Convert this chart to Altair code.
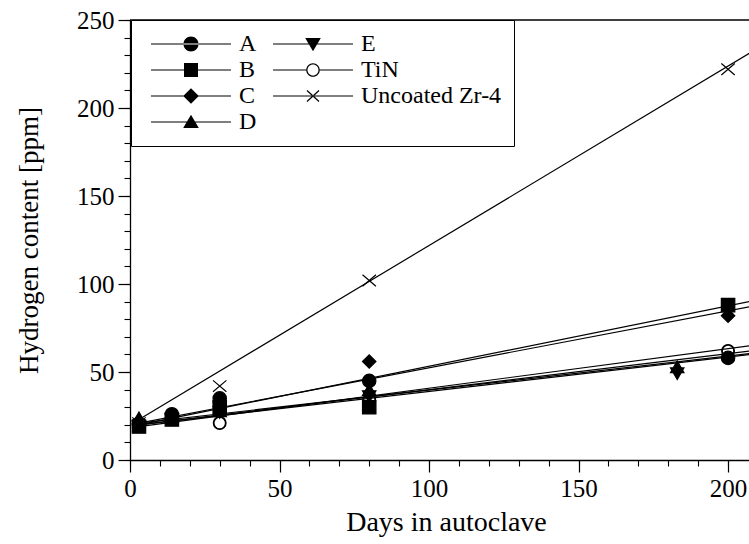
import altair as alt
import pandas as pd

FONT = "Liberation Serif, Times New Roman, Times, serif"

series_order = ["A", "B", "C", "D", "E", "TiN", "Uncoated Zr-4"]

# measured points
days_A = [3, 14, 30, 80, 200]
h_A = [20, 26, 35, 45, 58]
days_B = [3, 14, 30, 80, 200]
h_B = [19, 23, 30, 30, 88]
days_C = [3, 14, 30, 80, 200]
h_C = [22, 24, 33, 56, 82]
days_D = [3, 14, 30, 80, 183]
h_D = [24, 25, 28, 40, 53]
days_E = [3, 14, 30, 80, 183]
h_E = [19, 23, 27, 36, 49]
days_TiN = [3, 30, 80, 200]
h_TiN = [20, 21, 34, 62]
days_Zr = [3, 30, 80, 200]
h_Zr = [21, 42, 102, 222]

# fitted straight lines (start / end)
fit_series = ["A", "B", "C", "D", "E", "TiN", "Uncoated Zr-4"]
fit_day_start = 3
fit_day_end = 210
fit_h_start = [20, 20, 21, 21, 20, 19, 23]
fit_h_end = [62.5, 91, 88, 61, 60.5, 65.5, 234]

x_major = [0, 50, 100, 150, 200]
x_minor = list(range(0, 201, 10))
y_major = [0, 50, 100, 150, 200, 250]
y_minor = list(range(0, 251, 10))

rows = []
for name, d, h in [("A", days_A, h_A), ("B", days_B, h_B), ("C", days_C, h_C),
                   ("D", days_D, h_D), ("E", days_E, h_E), ("TiN", days_TiN, h_TiN),
                   ("Uncoated Zr-4", days_Zr, h_Zr)]:
    for a, b in zip(d, h):
        rows.append({"series": name, "day": a, "h": b})
pts = pd.DataFrame(rows)

frows = []
for name, a, b in zip(fit_series, fit_h_start, fit_h_end):
    frows.append({"series": name, "day": fit_day_start, "h": a})
    frows.append({"series": name, "day": fit_day_end, "h": b})
fits = pd.DataFrame(frows)

frame = pd.DataFrame({"x0": [0], "x1": [207], "y": [250]})

xs = alt.Scale(domain=[0, 207], nice=False, zero=False)
ys = alt.Scale(domain=[0, 250], nice=False, zero=False)

# marker shapes for the plotted points
ring = ("M-0.95,0A0.95,0.95 0 1 0 0.95,0A0.95,0.95 0 1 0 -0.95,0Z"
        "M-0.86,0A0.86,0.86 0 1 1 0.86,0A0.86,0.86 0 1 1 -0.86,0Z")
xmark = "M-1,-0.85L1,0.85M-1,0.85L1,-0.85"
data_shapes = {"A": "circle", "B": "square", "C": "diamond", "D": "triangle-up",
               "E": "triangle-down", "TiN": ring, "Uncoated Zr-4": xmark}

# legend symbols (fill only): a thin bar with the marker in its middle
ln = "M-0.4,-0.055H7.6V0.055H-0.4Z"
leg_shapes = [
    ln + "M2.85,0A0.75,0.75 0 1 0 4.35,0A0.75,0.75 0 1 0 2.85,0Z",
    ln + "M2.9,-0.7H4.3V0.7H2.9Z",
    ln + "M3.6,-0.78L4.38,0L3.6,0.78L2.82,0Z",
    ln + "M3.6,-0.72L4.38,0.6H2.82Z",
    ln + "M2.82,-0.6H4.38L3.6,0.72Z",
    "M-0.4,-0.055H2.93V0.055H-0.4Z"
    "M4.27,-0.055H7.6V0.055H4.27Z"
    "M2.92,0A0.68,0.68 0 1 0 4.28,0A0.68,0.68 0 1 0 2.92,0Z"
    "M3.05,0A0.55,0.55 0 1 1 4.15,0A0.55,0.55 0 1 1 3.05,0Z",
    ln + "M2.96,-0.506L4.16,0.594L4.24,0.506L3.04,-0.594Z"
         "M3.04,0.594L4.24,-0.506L4.16,-0.594L2.96,0.506Z",
]

lines = alt.Chart(fits).mark_line(color="black", strokeWidth=1.2, clip=True).encode(
    x=alt.X("day:Q", scale=xs, axis=alt.Axis(
        values=x_major, orient="bottom", tickSize=12, tickColor="black", tickWidth=1.2,
        domainColor="black", domainWidth=1.3, labelFont=FONT, labelFontSize=25,
        labelColor="black", labelPadding=4, labelFlush=False, labelOverlap=False,
        grid=False, title="Days in autoclave", titleFont=FONT, titleFontSize=28,
        titleFontWeight="normal", titleColor="black", titlePadding=7, titleX=316)),
    y=alt.Y("h:Q", scale=ys, axis=alt.Axis(
        values=y_major, orient="left", tickSize=12, tickColor="black", tickWidth=1.2,
        domainColor="black", domainWidth=1.3, labelFont=FONT, labelFontSize=25,
        labelColor="black", labelPadding=4, labelOverlap=False, grid=False,
        title="Hydrogen content [ppm]", titleFont=FONT, titleFontSize=27,
        titleFontWeight="normal", titleColor="black", titlePadding=33)),
    detail="series:N",
)

point_layers = []
for name in series_order:
    point_layers.append(
        alt.Chart(pts).transform_filter(alt.datum.series == name).mark_point(
            shape=data_shapes[name], filled=True, fill="black", stroke="black",
            strokeWidth=1.2, opacity=1, size=180).encode(
            x=alt.X("day:Q", scale=xs, axis=None),
            y=alt.Y("h:Q", scale=ys, axis=None),
        )
    )

legend_layer = alt.Chart(pts).transform_filter("false").mark_point(
    filled=True, fill="black", opacity=1, size=400).encode(
    x=alt.X("day:Q", scale=xs, axis=alt.Axis(
        values=x_minor, orient="bottom", tickSize=6, tickColor="black", tickWidth=1.1,
        labels=False, domain=False, grid=False, title=None)),
    y=alt.Y("h:Q", scale=ys, axis=alt.Axis(
        values=y_minor, orient="left", tickSize=6, tickColor="black", tickWidth=1.1,
        labels=False, domain=False, grid=False, title=None)),
    shape=alt.Shape("series:N", scale=alt.Scale(domain=series_order, range=leg_shapes),
                    legend=alt.Legend(
                        orient="none", legendX=1, legendY=0, columns=2, title=None,
                        symbolSize=400, symbolFillColor="black", symbolOpacity=1,
                        labelFont=FONT, labelFontSize=24, labelColor="black",
                        labelOffset=72, labelLimit=0, rowPadding=2, columnPadding=8,
                        padding=12, strokeColor="black", fillColor="white")),
)

top = alt.Chart(frame).mark_rule(color="black", strokeWidth=1.3).encode(
    x=alt.X("x0:Q", scale=xs, axis=None),
    x2="x1:Q",
    y=alt.Y("y:Q", scale=ys, axis=None),
)

chart = alt.layer(lines, *point_layers, legend_layer, top).resolve_axis(
    x="independent", y="independent"
).properties(
    width=619, height=440,
    padding={"left": 130, "top": 20, "right": 0, "bottom": 84},
    autosize=alt.AutoSizeParams(type="none"),
    background="white",
).configure_view(stroke=None)

chart.save("out.html", embed_options={"renderer": "svg", "actions": False})
